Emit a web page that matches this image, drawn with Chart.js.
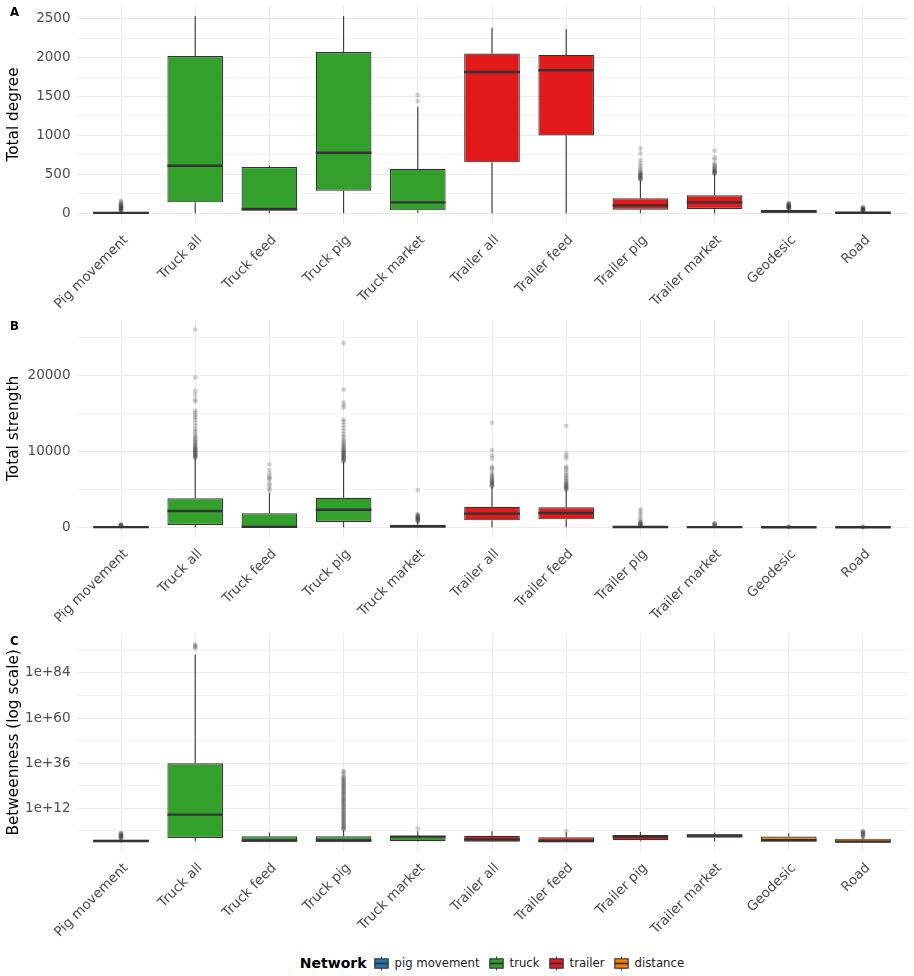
<!DOCTYPE html>
<html lang="en">
<head>
<meta charset="UTF-8">
<title>Network centrality boxplots</title>
<script src="https://cdn.jsdelivr.net/npm/chart.js@4"></script>
<style>
  body { margin: 0; background: #fff; font-family: "DejaVu Sans", sans-serif; }
  #wrap { position: relative; width: 914px; height: 976px; }
  .panel { position: absolute; left: 0; }
  .tag { position: absolute; left: 10px; font-weight: bold; font-size: 11.7px; color: #000; }
  #legend { position: absolute; left: 76.5px; width: 831px; top: 953px; height: 20px;
            display: flex; justify-content: center; align-items: center; }
  #legend b { font-size: 14px; margin-right: 6px; }
  #legend span { font-size: 11.7px; color: #1a1a1a; margin: 0 8px 0 5px; }
  #legend span:last-child { margin-right: 0; }
</style>
</head>
<body>
<div id="wrap">
  <canvas id="degree" class="panel" width="914" height="314" style="top:0px"></canvas>
  <canvas id="strength" class="panel" width="914" height="314" style="top:314px"></canvas>
  <canvas id="between" class="panel" width="914" height="314" style="top:628px"></canvas>
  <div class="tag" style="top:5px">A</div>
  <div class="tag" style="top:319px">B</div>
  <div class="tag" style="top:634px">C</div>
  <div id="legend"></div>
</div>

<script>
// categories and which network they belong to
const categories = ['Pig movement', 'Truck all', 'Truck feed', 'Truck pig', 'Truck market',
  'Trailer all', 'Trailer feed', 'Trailer pig', 'Trailer market', 'Geodesic', 'Road'];
const network = ['pig movement', 'truck', 'truck', 'truck', 'truck',
  'trailer', 'trailer', 'trailer', 'trailer', 'distance', 'distance'];
const networkNames = ['pig movement', 'truck', 'trailer', 'distance'];
const networkColors = ['#1f78b4', '#33a02c', '#e31a1c', '#ff7f00'];

// A - total degree
const degreeLower  = [0, 1, 0, 0, 5, 0, 0, 0, 0, 0, 0];
const degreeQ1     = [2, 141, 34, 290, 38, 654, 1000, 46, 55, 8, 0];
const degreeMedian = [6, 610, 55, 777, 141, 1815, 1837, 102, 141, 24, 7];
const degreeQ3     = [16, 2020, 594, 2072, 572, 2051, 2034, 192, 231, 42, 18];
const degreeUpper  = [32, 2535, 610, 2535, 1367, 2384, 2367, 425, 504, 58, 28];
const degreeOutliers = [
  [34, 40, 46, 52, 58, 64, 70, 76, 82, 88, 94, 100, 106, 118, 130, 145, 158],
  [], [], [], [1440, 1516], [], [],
  [432, 440, 448, 456, 465, 474, 483, 492, 501, 510, 520, 535, 555, 580, 610, 640, 683, 769, 833],
  [508, 515, 522, 530, 538, 546, 555, 565, 578, 592, 606, 620, 640, 690, 718, 803],
  [62, 66, 70, 74, 78, 82, 86, 90, 95, 100, 105, 110, 118, 126, 134],
  [30, 34, 38, 42, 46, 50, 55, 60, 66, 72, 78]
];

// B - total strength
const strengthLower  = [0, 0, 0, 0, 0, 0, 0, 0, 0, 0, 0];
const strengthQ1     = [10, 300, 0, 700, 0, 920, 1050, 10, 5, 2, 1];
const strengthMedian = [30, 2150, 80, 2320, 100, 1800, 1890, 40, 30, 8, 5];
const strengthQ3     = [60, 3825, 1845, 3900, 350, 2720, 2640, 100, 80, 20, 12];
const strengthUpper  = [120, 9100, 4560, 8650, 750, 5360, 4900, 240, 180, 45, 25];
const strengthOutliers = [
  [140, 170, 200, 240, 280, 330, 400],
  [9150, 9250, 9350, 9450, 9550, 9650, 9750, 9850, 9950, 10050, 10150, 10250, 10350, 10450,
   10550, 10700, 10850, 11000, 11150, 11300, 11500, 11700, 11900, 12100, 12400, 12700, 13000,
   13400, 13800, 14200, 14500, 14800, 15100, 15400, 16600, 16900, 17500, 18000, 19750, 26100],
  [4900, 5150, 5500, 5800, 6300, 6500, 6700, 7100, 7550, 8300],
  [8700, 8800, 8900, 9000, 9100, 9200, 9300, 9400, 9500, 9600, 9700, 9800, 9900, 10000, 10100,
   10200, 10350, 10500, 10650, 10800, 11000, 11200, 11400, 11700, 12000, 12300, 12700, 13100,
   13500, 13900, 14200, 15800, 16100, 16500, 18200, 24300],
  [780, 850, 920, 990, 1060, 1130, 1200, 1280, 1360, 1450, 1550, 1650, 1750, 4920],
  [5400, 5500, 5600, 5700, 5800, 5900, 6000, 6100, 6250, 6400, 6550, 6700, 6900, 7100, 7500,
   7800, 8000, 9100, 9500, 10200, 13800],
  [4950, 5050, 5150, 5250, 5350, 5450, 5550, 5650, 5800, 5950, 6100, 6300, 6500, 6700, 6900,
   7200, 7500, 7800, 8000, 9100, 9400, 9750, 13400],
  [250, 300, 360, 420, 500, 580, 660, 740, 1050, 1350, 1710, 2050, 2370],
  [200, 260, 330, 400, 480, 560],
  [50, 60, 70],
  [30, 35, 40]
];

// C - betweenness (log scale)
const betweenLower  = [6e-7, 2e-6, 1.2e-6, 1.2e-6, 1.2e-6, 1e-6, 6e-7, 2e-6, 2e-6, 1e-6, 4e-7];
const betweenQ1     = [1e-6, 1.2e-4, 1.2e-6, 1.2e-6, 2e-6, 1e-6, 6e-7, 8e-6, 1.6e-4, 1e-6, 4e-7];
const betweenMedian = [3e-6, 3e8, 5e-6, 5e-6, 6e-4, 1.6e-5, 2.5e-6, 6e-4, 2.5e-3, 8e-6, 1.2e-6];
const betweenQ3     = [1.3e-5, 8e35, 1e-3, 1e-3, 1e-3, 1.6e-3, 3e-4, 4e-3, 8e-3, 6e-4, 5e-5];
const betweenUpper  = [3e-5, 5e93, 8e-2, 1.6, 0.5, 0.5, 8e-2, 0.2, 8e-2, 4e-2, 2e-4];
const betweenOutliers = [
  [5e-5, 1e-4, 2e-4, 4e-4, 8e-4, 1.5e-3, 3e-3, 6e-3, 1.2e-2, 3e-2, 6e-2],
  [1.5e97, 8e97, 4e98, 2e99],
  [],
  [3, 8, 25, 90, 3e2, 1e3, 4e3, 1.5e4, 5e4, 2e5, 7e5, 3e6, 1e7, 4e7, 1.5e8, 6e8, 2e9, 8e9,
   3e10, 1e11, 5e11, 2e12, 7e12, 3e13, 1e14, 4e14, 2e15, 6e15, 2e16, 8e16, 3e17, 1e18, 5e18,
   2e19, 7e19, 3e20, 1e21, 4e21, 2e22, 6e22, 2e23, 9e23, 3e24, 1e25, 5e25, 2e26, 8e26, 3e27,
   1e28, 6e28, 1e30, 1e31, 6e31],
  [13],
  [], [0.5], [], [], [],
  [4e-4, 1e-3, 3e-3, 8e-3, 2e-2, 5e-2, 0.1, 0.3, 0.5]
];

const boxColors = network.map(n => networkColors[networkNames.indexOf(n)]);
const ink = '#333333';
const tickFont = { family: 'DejaVu Sans', size: 13.5 };

// whiskers under the boxes, medians on top of them
function boxExtras(stats) {
  return {
    id: 'boxExtras',
    beforeDatasetsDraw(chart) {
      const { ctx, scales: { x, y } } = chart;
      ctx.save();
      ctx.strokeStyle = ink;
      ctx.lineWidth = 1.1;
      ctx.beginPath();
      stats.q1.forEach((q1, i) => {
        const px = x.getPixelForValue(i);
        ctx.moveTo(px, y.getPixelForValue(stats.upper[i]));
        ctx.lineTo(px, y.getPixelForValue(stats.q3[i]));
        ctx.moveTo(px, y.getPixelForValue(q1));
        ctx.lineTo(px, y.getPixelForValue(stats.lower[i]));
      });
      ctx.stroke();
      ctx.restore();
    },
    afterDatasetsDraw(chart) {
      const { ctx, scales: { y } } = chart;
      const bars = chart.getDatasetMeta(0).data;
      ctx.save();
      ctx.strokeStyle = ink;
      ctx.lineWidth = 2.4;
      ctx.beginPath();
      bars.forEach((bar, i) => {
        const py = y.getPixelForValue(stats.median[i]);
        ctx.moveTo(bar.x - bar.width / 2, py);
        ctx.lineTo(bar.x + bar.width / 2, py);
      });
      ctx.stroke();
      ctx.restore();
    }
  };
}

function makePanel(id, title, stats, yScale) {
  const outlierPoints = [];
  stats.outliers.forEach((list, i) => list.forEach(v => outlierPoints.push({ x: i, y: v })));

  new Chart(document.getElementById(id), {
    type: 'bar',
    data: {
      datasets: [{
        type: 'bar',
        data: stats.q1.map((q1, i) => ({ x: i, y: [q1, stats.q3[i]] })),
        backgroundColor: boxColors,
        borderColor: ink,
        borderWidth: 1.2,
        borderSkipped: false,
        categoryPercentage: 0.75,
        barPercentage: 1.0
      }, {
        type: 'scatter',
        data: outlierPoints,
        pointRadius: 2.4,
        pointBackgroundColor: 'rgba(51,51,51,0.22)',
        pointBorderWidth: 0
      }]
    },
    options: {
      responsive: false,
      animation: false,
      events: [],
      layout: { autoPadding: false, padding: { top: 5.6, right: 6.5, left: 0, bottom: 0 } },
      plugins: { legend: { display: false }, tooltip: { enabled: false } },
      scales: {
        x: {
          type: 'linear',
          offset: false,
          min: -0.6,
          max: 10.6,
          afterBuildTicks: s => { s.ticks = categories.map((c, i) => ({ value: i })); },
          afterFit: s => { s.height = 90.8; s.paddingLeft = 0; s.paddingRight = 0; },
          border: { display: false },
          grid: { color: '#ebebeb', lineWidth: 1, drawTicks: false, offset: false },
          ticks: {
            autoSkip: false,
            minRotation: 45,
            maxRotation: 45,
            padding: 9,
            labelOffset: 5,
            color: '#4d4d4d',
            font: tickFont,
            callback: v => categories[v]
          }
        },
        y: Object.assign({
          bounds: 'data',
          afterFit: s => { s.width = 76.5; s.paddingTop = 0; s.paddingBottom = 0; },
          border: { display: false },
          grid: {
            drawTicks: false,
            lineWidth: 1,
            color: c => (yScale.isMajor(c.tick.value) ? '#ebebeb' : '#f3f3f3')
          },
          title: {
            display: true,
            text: title,
            color: '#000',
            font: { family: 'DejaVu Sans', size: 15.3 },
            padding: { top: 5, bottom: 0 }
          },
          ticks: {
            padding: 6,
            color: '#4d4d4d',
            font: tickFont,
            callback: v => (yScale.isMajor(v) ? yScale.label(v) : '')
          }
        }, yScale.opts)
      }
    },
    plugins: [boxExtras(stats)]
  });
}

// tick lists for each panel
const degreeTicks = [0, 250, 500, 750, 1000, 1250, 1500, 1750, 2000, 2250, 2500];
const strengthTicks = [0, 5000, 10000, 15000, 20000, 25000];
const betweenTicks = [1e0, 1e12, 1e24, 1e36, 1e48, 1e60, 1e72, 1e84, 1e96];

makePanel('degree', 'Total degree', {
  lower: degreeLower, q1: degreeQ1, median: degreeMedian, q3: degreeQ3,
  upper: degreeUpper, outliers: degreeOutliers
}, {
  isMajor: v => v % 500 === 0,
  label: v => String(v),
  opts: { type: 'linear', min: -127, max: 2667,
    afterBuildTicks: s => { s.ticks = degreeTicks.map(v => ({ value: v })); } }
});

makePanel('strength', 'Total strength', {
  lower: strengthLower, q1: strengthQ1, median: strengthMedian, q3: strengthQ3,
  upper: strengthUpper, outliers: strengthOutliers
}, {
  isMajor: v => v % 10000 === 0,
  label: v => String(v),
  opts: { type: 'linear', min: -1306, max: 27421,
    afterBuildTicks: s => { s.ticks = strengthTicks.map(v => ({ value: v })); } }
});

makePanel('between', 'Betweenness (log scale)', {
  lower: betweenLower, q1: betweenQ1, median: betweenMedian, q3: betweenQ3,
  upper: betweenUpper, outliers: betweenOutliers
}, {
  isMajor: v => Math.round(Math.log10(v)) % 24 === 12,
  label: v => '1e+' + Math.round(Math.log10(v)),
  opts: { type: 'logarithmic', min: 1e-11, max: 1e105,
    afterBuildTicks: s => { s.ticks = betweenTicks.map(v => ({ value: v })); } }
});

// legend in the ggplot style: bold title then boxplot keys
const legend = document.getElementById('legend');
legend.innerHTML = '<b>Network</b>' + networkNames.map((name, i) =>
  '<svg width="17" height="17" viewBox="0 0 17 17">' +
  '<line x1="8.5" y1="1.5" x2="8.5" y2="15.5" stroke="' + ink + '" stroke-width="1"/>' +
  '<rect x="1.8" y="3.8" width="13.4" height="9.4" fill="' + networkColors[i] + '" stroke="' + ink + '" stroke-width="1.1"/>' +
  '<line x1="1.8" y1="8.5" x2="15.2" y2="8.5" stroke="' + ink + '" stroke-width="1.8"/></svg>' +
  '<span>' + name + '</span>').join('');
</script>
</body>
</html>
